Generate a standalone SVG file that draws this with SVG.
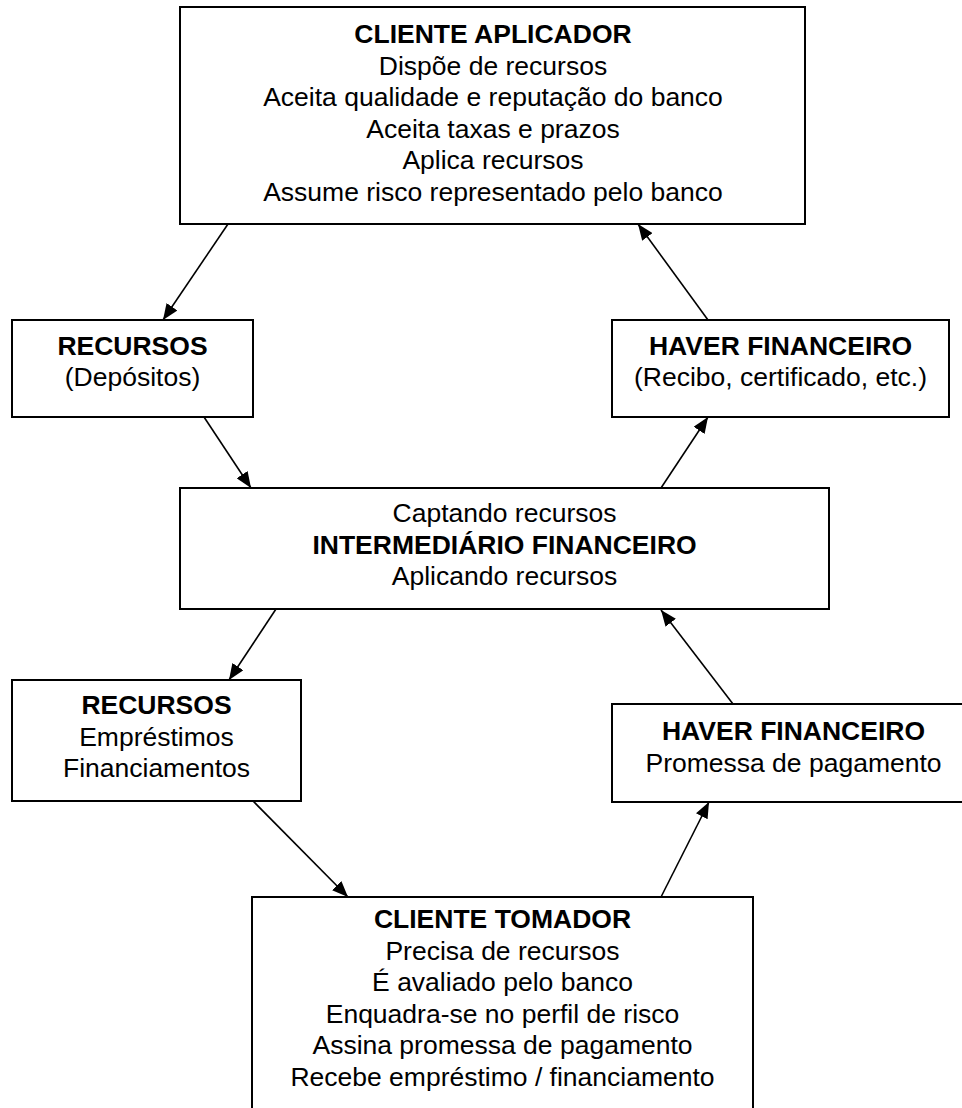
<svg xmlns="http://www.w3.org/2000/svg" width="962" height="1108" viewBox="0 0 962 1108">
<style>
.box{fill:#fff;stroke:#000;stroke-width:2}
text{font-family:"Liberation Sans",Arial,sans-serif;font-size:26.5px;fill:#000;text-anchor:middle}
.b{font-weight:bold}
.con{stroke:#000;stroke-width:1.6;fill:none;marker-end:url(#ah)}
</style>
<defs>
<marker id="ah" viewBox="0 0 16 13" refX="16" refY="6.5" markerWidth="16" markerHeight="13" markerUnits="userSpaceOnUse" orient="auto">
<path d="M0,0 L16,6.5 L0,13 z" fill="#000"/>
</marker>
</defs>
<rect width="962" height="1108" fill="#fff"/>
<g id="cliente-aplicador">
<rect class="box" x="180" y="7" width="625" height="217"/>
<text x="493" y="43" class="b">CLIENTE APLICADOR</text>
<text x="493" y="74.5">Dispõe de recursos</text>
<text x="493" y="106">Aceita qualidade e reputação do banco</text>
<text x="493" y="137.5">Aceita taxas e prazos</text>
<text x="493" y="169">Aplica recursos</text>
<text x="493" y="200.5">Assume risco representado pelo banco</text>
</g>
<g id="recursos-depositos">
<rect class="box" x="12" y="320" width="241" height="97"/>
<text x="132.5" y="355" class="b">RECURSOS</text>
<text x="132.5" y="386">(Depósitos)</text>
</g>
<g id="haver-recibo">
<rect class="box" x="612" y="320" width="337" height="97"/>
<text x="780.5" y="355" class="b">HAVER FINANCEIRO</text>
<text x="780.5" y="386">(Recibo, certificado, etc.)</text>
</g>
<g id="intermediario">
<rect class="box" x="180" y="488" width="649" height="121"/>
<text x="504.5" y="522">Captando recursos</text>
<text x="504.5" y="553.5" class="b">INTERMEDIÁRIO FINANCEIRO</text>
<text x="504.5" y="585">Aplicando recursos</text>
</g>
<g id="recursos-emprestimos">
<rect class="box" x="12" y="680" width="289" height="121"/>
<text x="156.5" y="714" class="b">RECURSOS</text>
<text x="156.5" y="745.5">Empréstimos</text>
<text x="156.5" y="777">Financiamentos</text>
</g>
<g id="haver-promessa">
<rect class="box" x="612" y="704" width="363" height="98"/>
<text x="793.5" y="740" class="b">HAVER FINANCEIRO</text>
<text x="793.5" y="771.5">Promessa de pagamento</text>
</g>
<g id="cliente-tomador">
<rect class="box" x="252" y="897" width="501" height="240"/>
<text x="502.5" y="928" class="b">CLIENTE TOMADOR</text>
<text x="502.5" y="959.5">Precisa de recursos</text>
<text x="502.5" y="991">É avaliado pelo banco</text>
<text x="502.5" y="1022.5">Enquadra-se no perfil de risco</text>
<text x="502.5" y="1054">Assina promessa de pagamento</text>
<text x="502.5" y="1085.5">Recebe empréstimo / financiamento</text>
</g>
<g id="connectors">
<line class="con" x1="228" y1="224" x2="163" y2="320"/>
<line class="con" x1="204" y1="417" x2="251" y2="488"/>
<line class="con" x1="708" y1="320" x2="638" y2="224"/>
<line class="con" x1="661" y1="488" x2="708" y2="417"/>
<line class="con" x1="276" y1="609" x2="229" y2="680"/>
<line class="con" x1="253" y1="801" x2="348" y2="897"/>
<line class="con" x1="733" y1="704" x2="661" y2="610"/>
<line class="con" x1="661" y1="897" x2="709" y2="802"/>
</g>
</svg>
